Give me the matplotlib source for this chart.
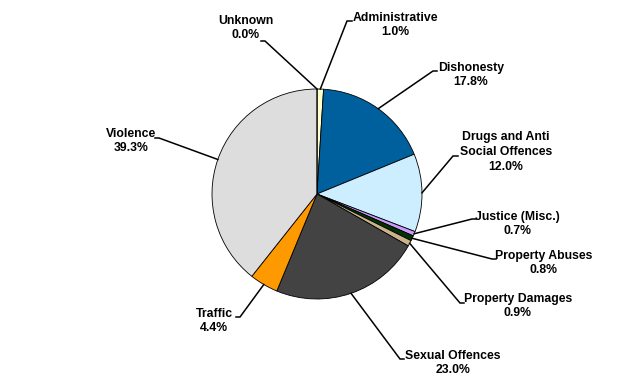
import matplotlib
matplotlib.use('Agg')
import matplotlib.pyplot as plt
import numpy as np

plt.rcParams['font.family'] = ['Liberation Sans', 'DejaVu Sans']

# offence categories, clockwise from 12 o'clock
categories = ['Administrative', 'Dishonesty', 'Drugs and Anti\nSocial Offences',
              'Justice (Misc.)', 'Property Abuses', 'Property Damages',
              'Sexual Offences', 'Traffic', 'Violence', 'Unknown']
shares = [1.0, 17.8, 12.0, 0.7, 0.8, 0.9, 23.0, 4.4, 39.3, 0.0]
colors = ['#FFFFCC', '#00609E', '#CCEEFF', '#CC99FF', '#003300',
          '#CCB38C', '#434343', '#FF9900', '#DDDDDD', '#FFFFFF']

# label layout in pixels (text centre, elbow, tick end)
text_pos = [(395, 25), (471, 75), (506, 152), (517, 224), (544, 263),
            (518, 306), (453, 363), (214, 321), (131, 141), (246, 28)]
elbows = [(347, 21), (433, 71), (453, 156), (472, 219), (492, 259),
          (460, 303), (400, 359), (240, 317), (159, 138), (265, 41)]
tick_ends = [(352, 21), (437, 71), (458, 156), (476, 219), (496, 259),
             (464, 303), (404, 359), (236, 317), (155, 138), (261, 41)]

CX, CY, R = 317, 194, 105
W, H = 635, 387


def px(x, y):
    return (x - CX) / R, (CY - y) / R


fig = plt.figure(figsize=(6.35, 3.87), dpi=100)
ax = fig.add_axes([0, 0, 1, 1])
wedges, _ = ax.pie(shares, colors=colors, startangle=90, counterclock=False,
                   radius=1.0, wedgeprops=dict(edgecolor='black', linewidth=0.6))
ax.set_xlim(-CX / R, (W - CX) / R)
ax.set_ylim(-(H - CY) / R, CY / R)
ax.set_aspect('auto')
ax.axis('off')

for i, w in enumerate(wedges):
    ang = np.deg2rad((w.theta1 + w.theta2) / 2)
    x0, y0 = np.cos(ang), np.sin(ang)
    ex, ey = px(*elbows[i])
    tx, ty = px(*tick_ends[i])
    ax.plot([x0, ex, tx], [y0, ey, ty], color='black', lw=1.1,
            solid_joinstyle='miter', clip_on=False)
    lx, ly = px(*text_pos[i])
    ax.text(lx, ly, f'{categories[i]}\n{shares[i]:.1f}%', ha='center', va='center',
            multialignment='center', fontsize=8.8, fontweight='bold', linespacing=1.3)

fig.savefig('out.png', dpi=100, facecolor='white')
